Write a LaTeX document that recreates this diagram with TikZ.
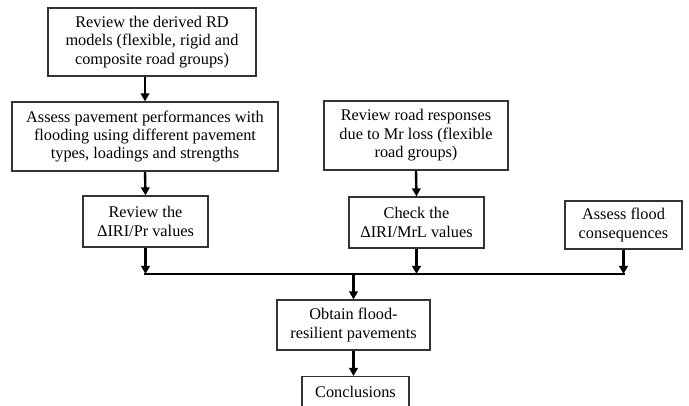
\documentclass[tikz,border=0pt]{standalone}
\usepackage{fontspec}
\setmainfont{Liberation Serif}
\usetikzlibrary{arrows.meta}
\begin{document}
\begin{tikzpicture}[x=1pt,y=-1pt,
  box/.style={draw=black!80, line width=1.2pt, fill=white, align=center, inner sep=0pt,
    font=\fontsize{16.3}{18.4}\selectfont},
  arr/.style={line width=2.4pt, -{Triangle[length=8pt,width=8.5pt]}},
  barline/.style={line width=2.4pt}]
\useasboundingbox (0,0) rectangle (689,406);
\begin{scope}
\clip (0,0) rectangle (689,406);
\node[box, minimum width=208pt, minimum height=68pt] (rd) at (152,42)
  {Review the derived RD\\models (flexible, rigid and\\composite road groups)};
\node[box, minimum width=266pt, minimum height=69pt] (assess) at (145,136.5)
  {Assess pavement performances with\\flooding using different pavement\\types, loadings and strengths};
\node[box, minimum width=184pt, minimum height=69pt] (road) at (416,135.5)
  {Review road responses\\due to Mr loss (flexible\\road groups)};
\node[box, minimum width=125pt, minimum height=51pt] (pr) at (145.5,221.5)
  {Review the\\ΔIRI/Pr values};
\node[box, minimum width=135pt, minimum height=51pt] (mrl) at (416.5,222.5)
  {Check the\\ΔIRI/MrL values};
\node[box, minimum width=117pt, minimum height=48pt] (flood) at (623.5,225)
  {Assess flood\\consequences};
\node[box, minimum width=153pt, minimum height=50pt] (obtain) at (353.5,325)
  {Obtain flood-\\resilient pavements};
\node[box, minimum width=107pt, minimum height=34pt, anchor=north] (concl) at (355.5,376)
  {\raisebox{4pt}{Conclusions}};
\coordinate (bar) at (0,274);
\draw[arr] (rd.south -| assess.north) -- (assess.north);
\draw[arr] (assess.south) -- (pr.north);
\draw[arr] (road.south) -- (mrl.north);
\draw[arr] (pr.south) -- (pr.south |- bar);
\draw[arr] (mrl.south) -- (mrl.south |- bar);
\draw[arr] (flood.south) -- (flood.south |- bar);
\draw[barline, line cap=rect] (pr.south |- bar) -- (flood.south |- bar);
\draw[arr] (obtain.north |- bar) -- (obtain.north);
\draw[arr] (obtain.south) -- (obtain.south |- concl.north);
\end{scope}
\end{tikzpicture}
\end{document}
